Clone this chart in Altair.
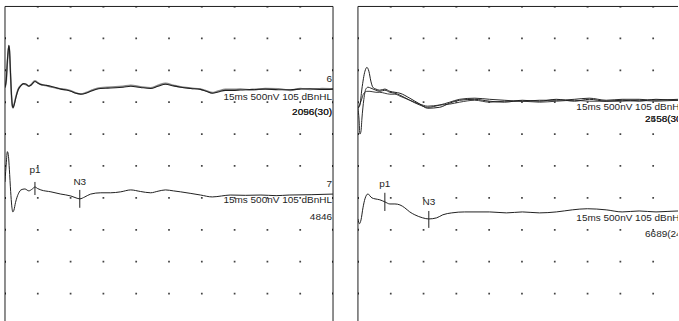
import altair as alt
import pandas as pd

SWEEP_MS = 15.0      # full sweep shown across one frame
STEP_MS = 1.5        # one grid division along time
DEPTH = 9.875        # grid divisions visible below the top of the frame
FONT = "Liberation Sans"
INK = "#1e1e1e"

# ---------------- left recording ----------------
# trace 6: two overlaid averages (time in ms, level in grid divisions from the top)
l6_t = [0.00, 0.06, 0.11, 0.16, 0.18, 0.21, 0.25, 0.30, 0.34, 0.37,
        0.42, 0.50, 0.60, 0.73, 0.85, 0.96, 1.09, 1.20, 1.37, 1.50,
        1.64, 1.85, 2.10, 2.35, 2.55, 2.80, 3.01, 3.25, 3.47, 3.70,
        3.92, 4.15, 4.38, 4.70, 5.06, 5.40, 5.75, 6.20, 6.66, 7.00,
        7.34, 7.70, 8.03, 8.50, 8.94, 9.20, 9.48, 9.75, 10.08, 10.40,
        10.76, 11.30, 11.90, 12.50, 13.04, 13.50, 13.95, 14.50, 15.00]
l6a_v = [2.53, 2.30, 1.70, 1.30, 1.22, 1.40, 2.05, 2.80, 3.12, 3.17,
         3.08, 2.85, 2.62, 2.48, 2.42, 2.43, 2.50, 2.46, 2.35, 2.40,
         2.45, 2.47, 2.50, 2.55, 2.59, 2.62, 2.66, 2.72, 2.75, 2.72,
         2.66, 2.60, 2.57, 2.56, 2.55, 2.53, 2.50, 2.54, 2.57, 2.50,
         2.44, 2.49, 2.53, 2.57, 2.60, 2.66, 2.72, 2.68, 2.63, 2.63,
         2.62, 2.60, 2.59, 2.61, 2.61, 2.59, 2.58, 2.60, 2.59]
l6b_v = [2.55, 2.32, 1.74, 1.33, 1.24, 1.42, 2.08, 2.83, 3.14, 3.18,
         3.06, 2.83, 2.60, 2.47, 2.43, 2.45, 2.49, 2.44, 2.33, 2.39,
         2.44, 2.48, 2.52, 2.56, 2.58, 2.60, 2.64, 2.71, 2.74, 2.70,
         2.64, 2.58, 2.55, 2.53, 2.52, 2.50, 2.47, 2.52, 2.55, 2.47,
         2.41, 2.47, 2.52, 2.56, 2.59, 2.64, 2.70, 2.65, 2.60, 2.60,
         2.59, 2.62, 2.57, 2.58, 2.63, 2.57, 2.60, 2.57, 2.58]

# trace 7
l7_t = [0.00, 0.06, 0.11, 0.16, 0.20, 0.26, 0.31, 0.36, 0.41, 0.48,
        0.55, 0.65, 0.73, 0.91, 1.09, 1.25, 1.37, 1.50, 1.64, 2.10,
        2.55, 3.01, 3.25, 3.42, 3.65, 3.92, 4.38, 4.83, 5.29, 5.75,
        6.20, 6.66, 7.00, 7.34, 7.70, 8.03, 8.50, 8.94, 9.48, 9.90,
        10.30, 11.00, 11.70, 12.40, 13.00, 14.00, 15.00]
l7_v = [5.50, 4.90, 4.55, 4.70, 5.10, 5.80, 6.25, 6.44, 6.38, 6.15,
        5.98, 5.82, 5.75, 5.72, 5.78, 5.72, 5.66, 5.71, 5.75, 5.81,
        5.88, 5.94, 6.00, 6.03, 5.97, 5.88, 5.84, 5.84, 5.81, 5.75,
        5.80, 5.84, 5.79, 5.75, 5.78, 5.81, 5.86, 5.91, 5.97, 5.94,
        5.91, 5.92, 5.91, 5.93, 5.91, 5.90, 5.88]

# ---------------- right recording ----------------
ra_t = [0, 0.09, 0.18, 0.32, 0.41, 0.50, 0.59, 0.68, 0.82, 1.0,
        1.23, 1.46, 1.69, 1.92, 2.37, 2.83, 3.19, 3.74, 4.2, 4.65,
        5.34, 6.02, 6.7, 7.52, 8.3, 9.07, 9.9, 10.58, 11.35, 12.08,
        12.86, 13.63, 14.64, 15]
ra_v = [3.19, 3.09, 2.59, 2.03, 1.91, 2.03, 2.34, 2.53, 2.59, 2.625,
        2.59, 2.66, 2.69, 2.72, 2.875, 3.06, 3.19, 3.16, 3.03, 2.94,
        2.91, 2.97, 3.0, 2.94, 2.97, 2.91, 2.97, 2.91, 2.97, 2.94,
        2.97, 2.91, 2.94, 2.94]
rb_t = [0, 0.05, 0.09, 0.14, 0.18, 0.27, 0.36, 0.46, 0.59, 0.82,
        1.0, 1.23, 1.46, 1.69, 1.92, 2.37, 2.83, 3.19, 3.74, 4.2,
        4.65, 5.34, 6.02, 6.7, 7.52, 8.3, 9.07, 9.9, 10.58, 11.35,
        12.08, 12.86, 13.63, 14.64, 15]
rb_v = [3.19, 3.53, 4.0, 3.91, 3.53, 2.91, 2.59, 2.53, 2.56, 2.625,
        2.66, 2.625, 2.69, 2.72, 2.78, 2.94, 3.09, 3.16, 3.09, 3.0,
        2.91, 2.875, 2.91, 2.94, 2.97, 2.94, 2.94, 2.91, 2.875, 2.94,
        2.91, 2.91, 2.94, 2.91, 2.91]
rc_t = [0, 0.14, 0.27, 0.41, 0.55, 0.82, 1.0, 1.23, 1.46, 1.69,
        1.92, 2.37, 2.83, 3.19, 3.74, 4.2, 4.65, 5.34, 6.02, 6.7,
        7.52, 8.3, 9.07, 9.9, 10.58, 11.35, 12.08, 12.86, 13.63, 14.64, 15]
rc_v = [3.19, 2.97, 2.72, 2.66, 2.66, 2.69, 2.69, 2.72, 2.75, 2.75,
        2.81, 2.94, 3.06, 3.125, 3.09, 3.06, 3.0, 2.94, 3.0, 2.97,
        2.97, 3.0, 2.97, 2.94, 2.97, 2.97, 2.97, 2.94, 2.97, 2.94, 2.94]
rd_t = [0, 0.07, 0.14, 0.23, 0.32, 0.46, 0.55, 0.64, 0.78, 1.0,
        1.23, 1.46, 1.69, 1.92, 2.14, 2.37, 2.6, 2.96, 3.24, 3.6,
        3.88, 4.29, 4.88, 6.02, 6.79, 7.52, 8.3, 9.07, 9.8, 10.49,
        11.35, 12.08, 12.86, 13.63, 14.64, 15]
rd_v = [6.66, 6.81, 6.69, 6.31, 6.03, 5.875, 5.94, 6.0, 6.03, 6.06,
        6.125, 6.19, 6.19, 6.22, 6.31, 6.44, 6.53, 6.625, 6.66, 6.625,
        6.53, 6.47, 6.44, 6.44, 6.47, 6.44, 6.47, 6.44, 6.375, 6.34,
        6.375, 6.44, 6.41, 6.44, 6.41, 6.41]

# peak markers: name, latency (ms), tick extent and label level (divisions)
left_peaks = [("p1", 1.37, 5.50, 5.91, 5.13), ("N3", 3.42, 5.75, 6.31, 5.50)]
right_peaks = [("p1", 1.23, 5.84, 6.41, 5.56), ("N3", 3.24, 6.41, 6.94, 6.13)]

# trace annotations, right-aligned at the end of the sweep
left_notes = [("6", 2.28), ("15ms 500nV 105 dBnHL", 2.84),
              ("2056(30)", 3.31), ("2096(30)", 3.31),
              ("7", 5.56), ("15ms 500nV 105 dBnHL", 6.06), ("4846", 6.59)]
right_notes = [("15ms 500nV 105 dBnHL", 3.16),
               ("2556(30)", 3.53), ("2458(30)", 3.53),
               ("15ms 500nV 105 dBnHL", 6.63), ("6689(24)", 7.13)]


def trace_frame(name, ts, vs):
    return pd.DataFrame({"t": ts, "d": vs, "trace": name})


def panel(traces, peaks, notes, x_max, width, right_border):
    xs = alt.Scale(domain=[0, x_max], nice=False, zero=False)
    ys = alt.Scale(domain=[0, DEPTH], reverse=True, nice=False, zero=False)
    X = lambda f: alt.X(f, scale=xs, axis=None)
    Y = lambda f: alt.Y(f, scale=ys, axis=None)

    cols = [STEP_MS * k for k in range(1, 10)]
    rows = list(range(1, 10))
    dots = pd.DataFrame([{"t": c, "d": r} for c in cols for r in rows])
    edge = [{"t": 0.0, "d": r} for r in rows] + [{"t": c, "d": 0.0} for c in cols]
    if right_border:
        edge += [{"t": SWEEP_MS, "d": r} for r in rows]
    edge = pd.DataFrame(edge)

    layers = [
        alt.Chart(dots).mark_square(size=3, color="#444", opacity=1, clip=True)
        .encode(x=X("t:Q"), y=Y("d:Q")),
        alt.Chart(edge).mark_square(size=4, color=INK, opacity=1, clip=True)
        .encode(x=X("t:Q"), y=Y("d:Q")),
    ]

    for df, color, width_px in traces:
        layers.append(
            alt.Chart(df).mark_line(interpolate="monotone", color=color,
                                    strokeWidth=width_px, clip=True)
            .encode(x=X("t:Q"), y=Y("d:Q"), order="t:Q")
        )

    pk = pd.DataFrame(peaks, columns=["name", "t", "lo", "hi", "lab"])
    layers += [
        alt.Chart(pk).mark_rule(color=INK, strokeWidth=1, clip=True)
        .encode(x=X("t:Q"), y=Y("lo:Q"), y2="hi:Q"),
        alt.Chart(pk).mark_text(font=FONT, fontSize=10, color=INK,
                                align="center", baseline="middle", clip=True)
        .encode(x=X("t:Q"), y=Y("lab:Q"), text="name:N"),
    ]

    nt = pd.DataFrame(notes, columns=["text", "d"])
    nt["t"] = SWEEP_MS
    layers.append(
        alt.Chart(nt).mark_text(font=FONT, fontSize=10, color=INK,
                                align="right", baseline="middle", dx=-1, clip=True)
        .encode(x=X("t:Q"), y=Y("d:Q"), text="text:N")
    )

    frame = [alt.Chart(pd.DataFrame({"t": [0.0]})).mark_rule(color=INK, strokeWidth=1)
             .encode(x=X("t:Q")),
             alt.Chart(pd.DataFrame({"d": [0.0]})).mark_rule(color=INK, strokeWidth=1)
             .encode(y=Y("d:Q"))]
    if right_border:
        frame.append(alt.Chart(pd.DataFrame({"t": [SWEEP_MS]}))
                     .mark_rule(color=INK, strokeWidth=1).encode(x=X("t:Q")))
    layers += frame

    return alt.layer(*layers).properties(width=width, height=316)


left = panel(
    [(trace_frame("6b", l6_t, l6b_v), "#8a8a8a", 1.6),
     (trace_frame("6a", l6_t, l6a_v), "#202020", 1.1),
     (trace_frame("7", l7_t, l7_v), "#202020", 1.0)],
    left_peaks, left_notes, SWEEP_MS, 329, True)

right = panel(
    [(trace_frame("c", rc_t, rc_v), "#3a3a3a", 1.0),
     (trace_frame("b", rb_t, rb_v), "#2a2a2a", 1.0),
     (trace_frame("a", ra_t, ra_v), "#202020", 1.0),
     (trace_frame("d", rd_t, rd_v), "#202020", 1.0)],
    right_peaks, right_notes, SWEEP_MS * 321 / 329, 321, False)

chart = (
    alt.hconcat(left, right, spacing=25, bounds="flush")
    .properties(padding={"left": 4, "top": 5, "right": 0, "bottom": 0})
    .configure_view(stroke=None)
)

chart.save("out.html", embed_options={"renderer": "svg", "actions": False})
